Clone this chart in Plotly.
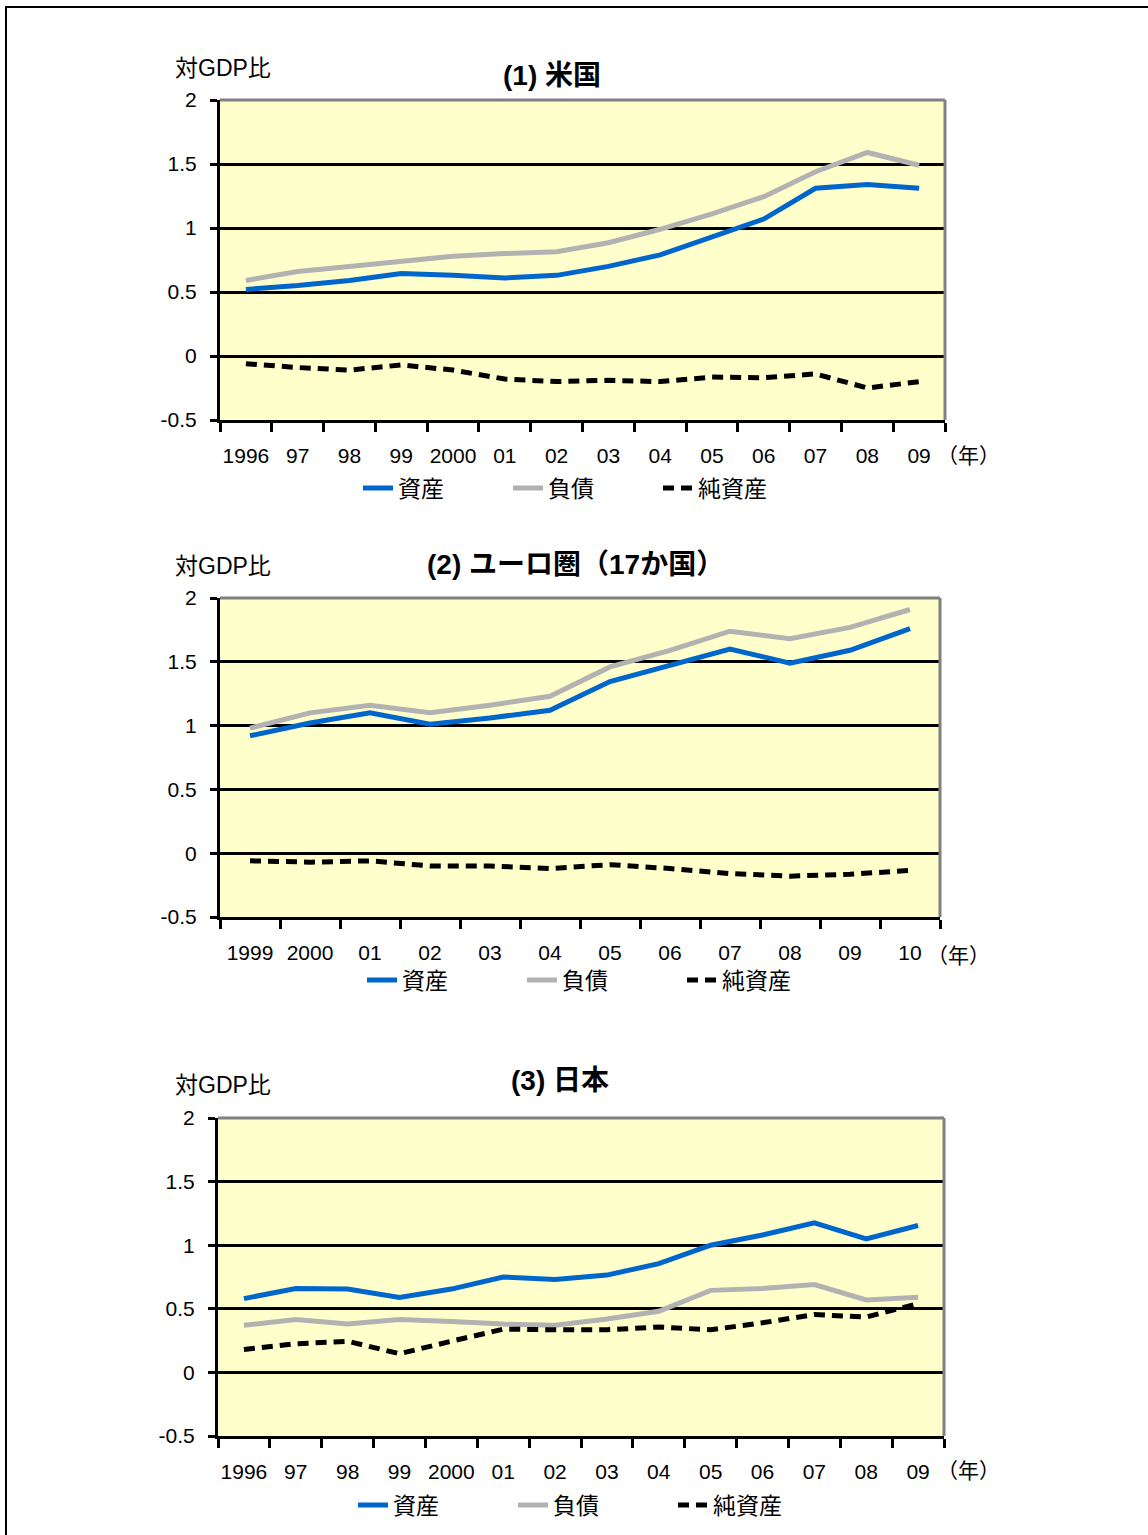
import plotly.graph_objects as go

W, H = 1148, 1535

# ---------------- data ----------------
years_us = ["1996", "97", "98", "99", "2000", "01", "02", "03", "04", "05", "06", "07", "08", "09"]
us_assets = [0.52, 0.55, 0.59, 0.645, 0.63, 0.61, 0.63, 0.70, 0.79, 0.93, 1.07, 1.31, 1.34, 1.31]
us_liabilities = [0.59, 0.66, 0.70, 0.74, 0.78, 0.80, 0.815, 0.885, 0.99, 1.11, 1.245, 1.44, 1.59, 1.49]
us_net = [-0.06, -0.09, -0.11, -0.07, -0.11, -0.18, -0.20, -0.19, -0.20, -0.165, -0.17, -0.14, -0.25, -0.20]

years_ea = ["1999", "2000", "01", "02", "03", "04", "05", "06", "07", "08", "09", "10"]
ea_assets = [0.92, 1.02, 1.10, 1.01, 1.06, 1.12, 1.345, 1.475, 1.60, 1.49, 1.59, 1.76]
ea_liabilities = [0.98, 1.10, 1.16, 1.10, 1.16, 1.23, 1.46, 1.59, 1.74, 1.68, 1.77, 1.91]
ea_net = [-0.06, -0.07, -0.06, -0.10, -0.10, -0.12, -0.09, -0.12, -0.16, -0.18, -0.165, -0.135]

years_jp = ["1996", "97", "98", "99", "2000", "01", "02", "03", "04", "05", "06", "07", "08", "09"]
jp_assets = [0.58, 0.66, 0.655, 0.59, 0.655, 0.75, 0.73, 0.765, 0.855, 1.00, 1.08, 1.175, 1.05, 1.155]
jp_liabilities = [0.37, 0.415, 0.38, 0.415, 0.40, 0.38, 0.37, 0.42, 0.48, 0.645, 0.66, 0.69, 0.57, 0.59]
jp_net = [0.18, 0.225, 0.245, 0.147, 0.245, 0.34, 0.335, 0.335, 0.357, 0.335, 0.39, 0.455, 0.435, 0.54]

y_tickvals = [-0.5, 0, 0.5, 1, 1.5, 2]
y_ticktext = ["-0.5", "0", "0.5", "1", "1.5", "2"]

series_names = ["資産", "負債", "純資産"]
titles = ["(1) 米国", "(2) ユーロ圏（17か国）", "(3) 日本"]
y_unit = "対GDP比"
x_unit = "（年）"

# ---------------- style ----------------
FONT = "Liberation Sans, Arial, Noto Sans CJK JP, sans-serif"
BLUE = "#0066CC"
GRAY = "#B2B2B2"
BLACK = "#000000"
BG = "#FFFFCC"


def px(x):
    return x / W


def py(y):
    return 1 - y / H


# panel pixel boxes: (left, right, top, bottom)
boxes = [(220, 945, 100, 420), (220, 940, 598, 917), (218, 944, 1118, 1436)]
panels = [
    (years_us, us_assets, us_liabilities, us_net),
    (years_ea, ea_assets, ea_liabilities, ea_net),
    (years_jp, jp_assets, jp_liabilities, jp_net),
]
net_dash = ["11px,7px", "11px,7px", "11px,7px"]

fig = go.Figure()
layout = dict(
    width=W, height=H,
    margin=dict(l=0, r=0, t=0, b=0, autoexpand=False),
    paper_bgcolor="white",
    plot_bgcolor=BG,
    font=dict(family=FONT, size=21, color="black"),
    showlegend=True,
)
annotations = []
shapes = []

# legend positions (text start x px, center y px)
legend_pos = [(398, 488), (402, 980), (393, 1505)]
legend_entry = [105, 115, 115]
title_pos = [(552, 75), (575, 565), (560, 1080)]
yunit_pos = [(223, 68), (223, 566), (223, 1085)]
xunit_pos = [(968, 455), (958, 955), (968, 1470)]

for i, (years, a, l, n) in enumerate(panels):
    k = "" if i == 0 else str(i + 1)
    xa, ya = "x" + k, "y" + k
    lg = "legend" + k
    fig.add_trace(go.Scatter(x=years, y=a, name=series_names[0], mode="lines",
                             line=dict(color=BLUE, width=5), xaxis=xa, yaxis=ya, legend=lg))
    fig.add_trace(go.Scatter(x=years, y=l, name=series_names[1], mode="lines",
                             line=dict(color=GRAY, width=5), xaxis=xa, yaxis=ya, legend=lg))
    fig.add_trace(go.Scatter(x=years, y=n, name=series_names[2], mode="lines",
                             line=dict(color=BLACK, width=5, dash=net_dash[i]),
                             xaxis=xa, yaxis=ya, legend=lg))

    left, right, top, bottom = boxes[i]
    layout["xaxis" + k] = dict(
        domain=[px(left), px(right)], anchor=ya,
        type="category", categoryorder="array", categoryarray=years,
        range=[-0.5, len(years) - 0.5],
        tickson="boundaries", ticks="outside", ticklen=9, tickwidth=3, tickcolor=BLACK,
        showgrid=False, showline=True, linecolor=BLACK, linewidth=3,
        tickfont=dict(size=21, family=FONT), tickangle=0, ticklabelstandoff=15,
        automargin=False, fixedrange=True,
    )
    layout["yaxis" + k] = dict(
        domain=[py(bottom), py(top)], anchor=xa,
        range=[-0.5, 2], tickvals=y_tickvals, ticktext=y_ticktext,
        ticks="outside", ticklen=7, tickwidth=3, tickcolor=BLACK,
        showgrid=True, gridcolor=BLACK, gridwidth=3, zeroline=False,
        showline=True, linecolor=BLACK, linewidth=3,
        tickfont=dict(size=21, family=FONT), ticklabelstandoff=9,
        automargin=False, fixedrange=True,
    )
    lx, ly = legend_pos[i]
    layout[lg] = dict(
        orientation="h", x=px(lx - 40), y=py(ly), xanchor="left", yanchor="middle",
        font=dict(size=23, family=FONT), bgcolor="rgba(0,0,0,0)",
        entrywidth=legend_entry[i], itemclick=False, itemdoubleclick=False,
        tracegroupgap=0,
    )
    # top & right frame (gray)
    shapes.append(dict(type="line", xref=xa + " domain", yref=ya + " domain",
                       x0=0, x1=1, y0=1, y1=1, line=dict(color="#808080", width=3), layer="above"))
    shapes.append(dict(type="line", xref=xa + " domain", yref=ya + " domain",
                       x0=1, x1=1, y0=0, y1=1, line=dict(color="#808080", width=3), layer="above"))
    tx, ty = title_pos[i]
    annotations.append(dict(text="<b>" + titles[i] + "</b>", x=px(tx), y=py(ty), xref="paper",
                            yref="paper", showarrow=False, xanchor="center", yanchor="middle",
                            font=dict(size=28, family=FONT)))
    ux, uy = yunit_pos[i]
    annotations.append(dict(text=y_unit, x=px(ux), y=py(uy), xref="paper", yref="paper",
                            showarrow=False, xanchor="center", yanchor="middle",
                            font=dict(size=23, family=FONT)))
    wx, wy = xunit_pos[i]
    annotations.append(dict(text=x_unit, x=px(wx), y=py(wy), xref="paper", yref="paper",
                            showarrow=False, xanchor="center", yanchor="middle",
                            font=dict(size=21, family=FONT)))

# outer page frame
shapes.append(dict(type="rect", xref="paper", yref="paper", x0=px(6), x1=1.05, y0=-0.05, y1=py(7),
                   line=dict(color=BLACK, width=2), fillcolor="rgba(0,0,0,0)", layer="above"))

layout["annotations"] = annotations
layout["shapes"] = shapes
fig.update_layout(**layout)
fig.write_html("out.html")
